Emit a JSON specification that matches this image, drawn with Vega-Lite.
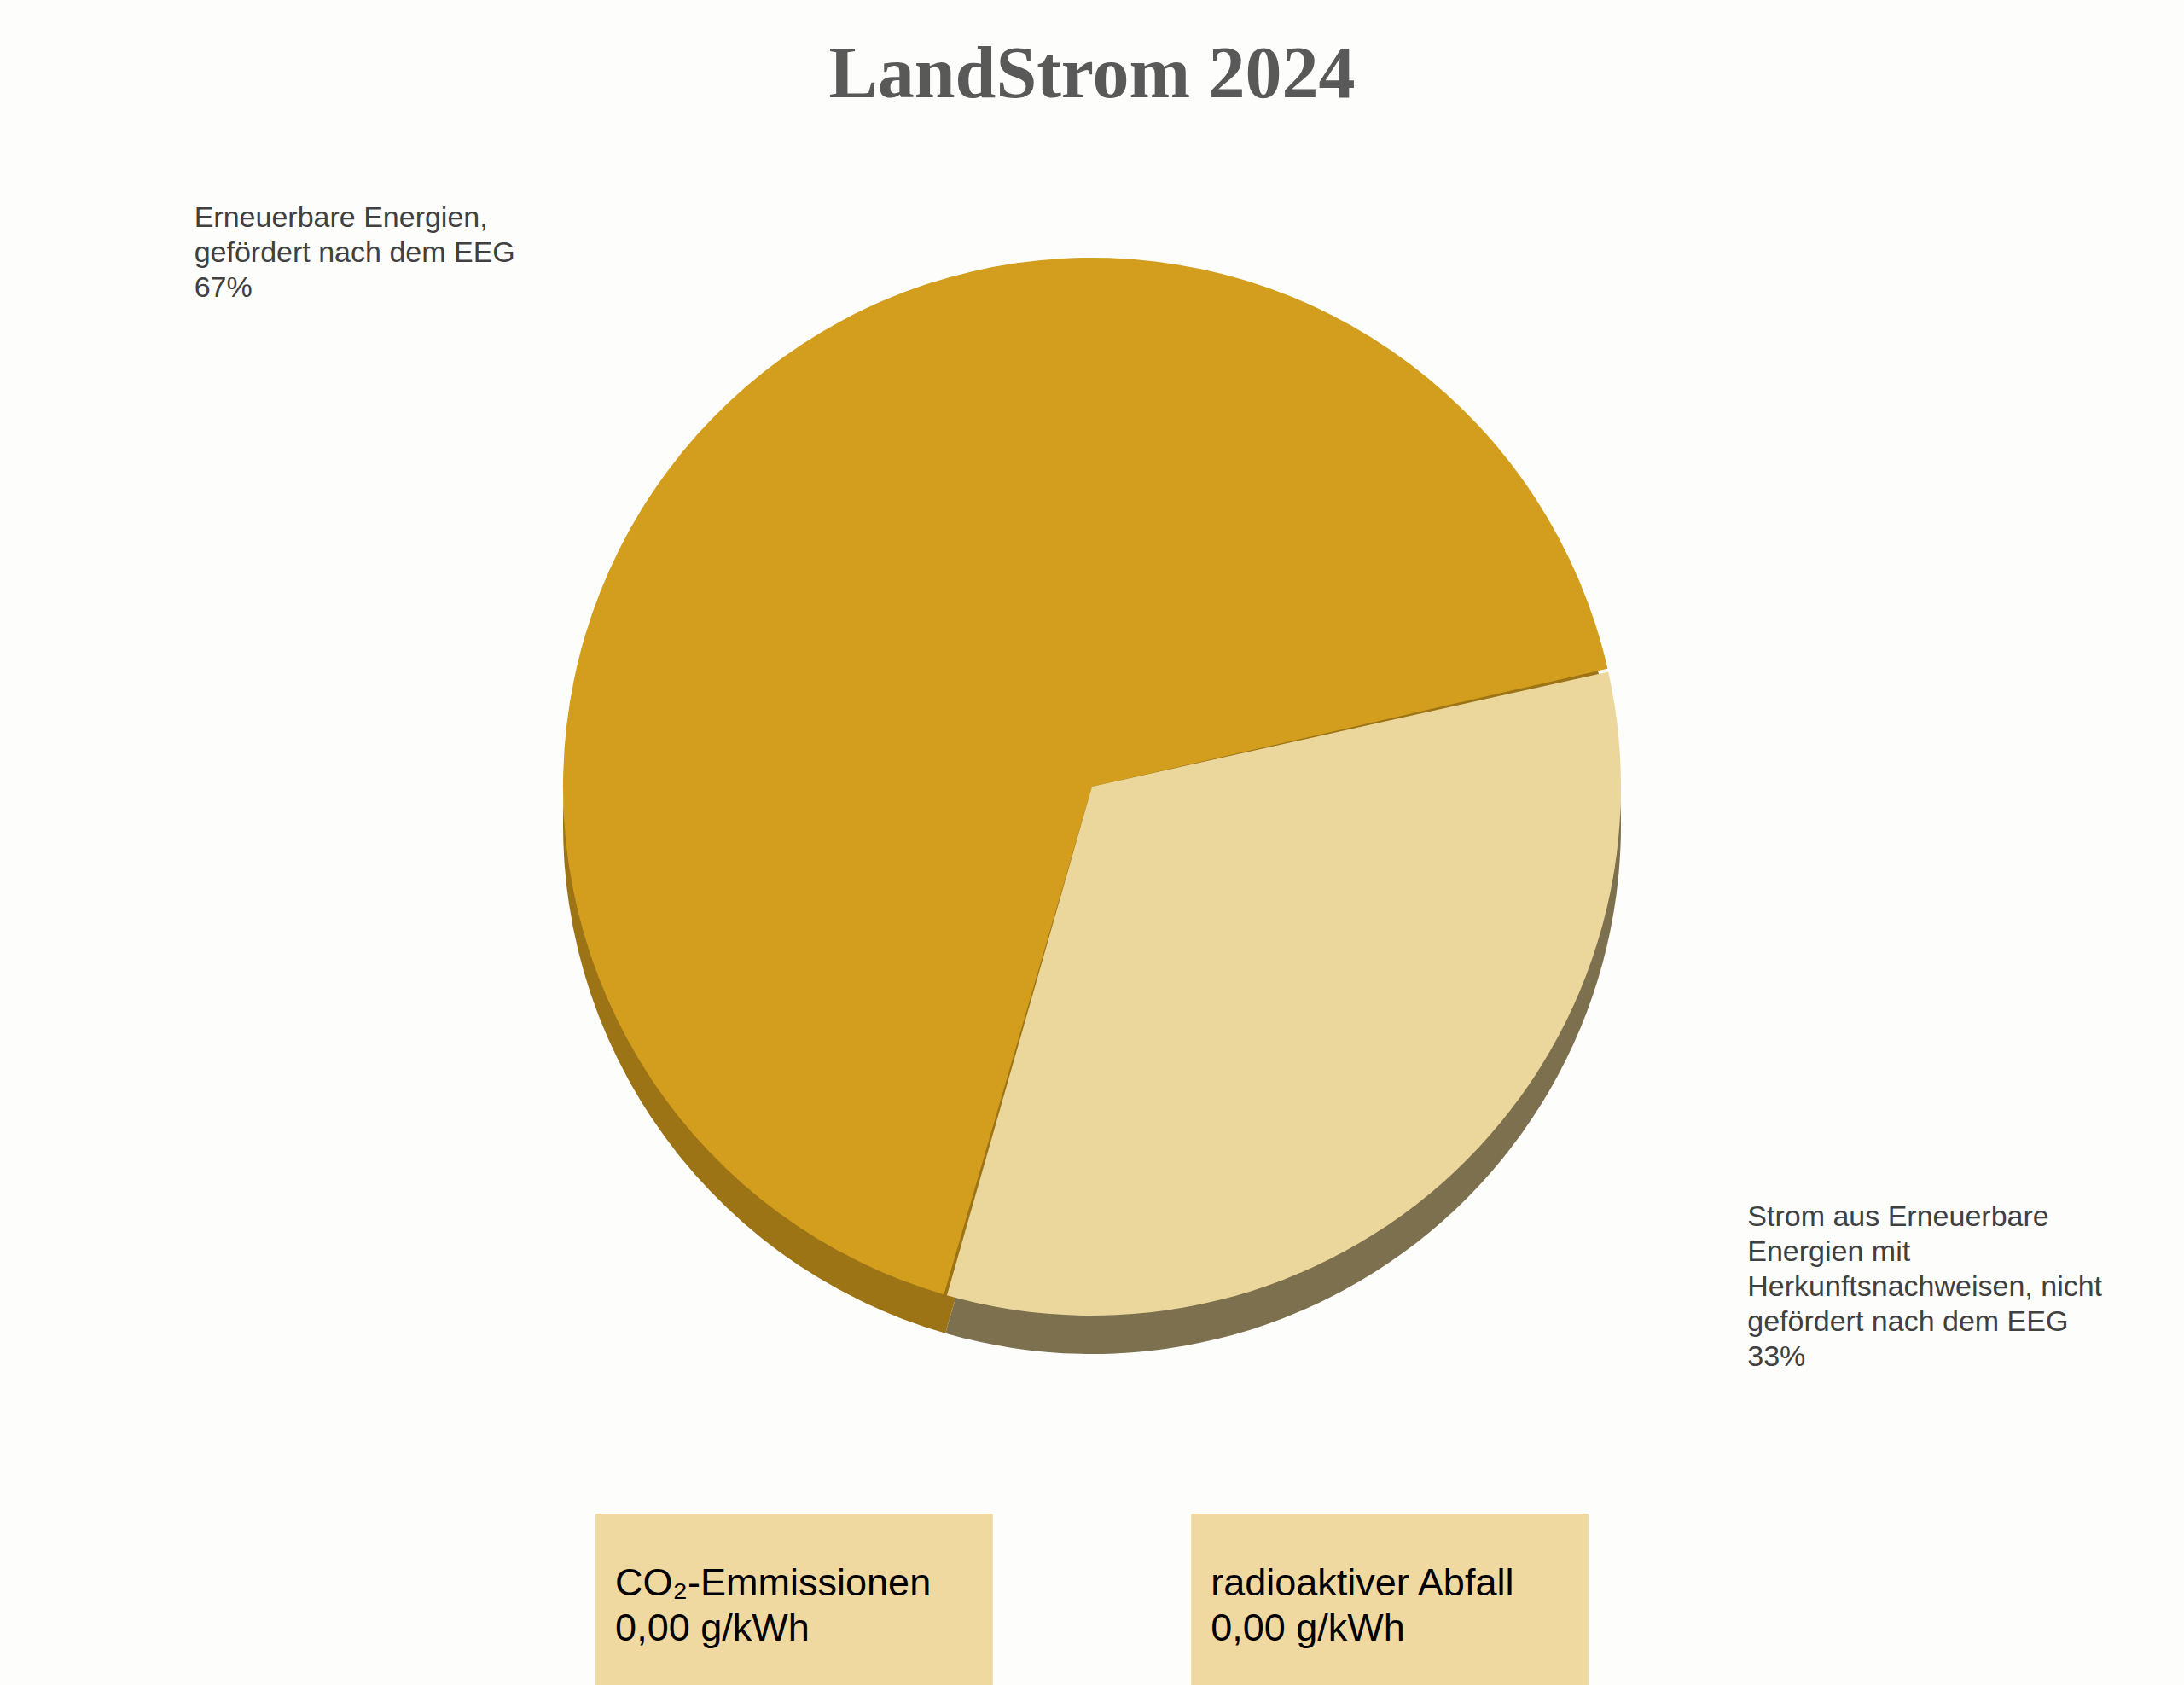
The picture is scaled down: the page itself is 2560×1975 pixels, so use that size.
{
  "$schema": "https://vega.github.io/schema/vega-lite/v6.json",
  "background": "#fdfdfc",
  "padding": {"top": 45, "left": 0, "right": 0, "bottom": 0},
  "title": {"text": "LandStrom 2024", "font": "Liberation Serif", "fontSize": 86, "fontWeight": "bold", "color": "#595959", "anchor": "middle", "offset": 50},
  "config": {"view": {"stroke": null}},
  "datasets": {
    "shares": [
      {"name": "Erneuerbare Energien, gefördert nach dem EEG", "pct": 67, "label": ["Erneuerbare Energien,", "gefördert nach dem EEG", "67%"]},
      {"name": "Strom aus Erneuerbare Energien mit Herkunftsnachweisen, nicht gefördert nach dem EEG", "pct": 33, "label": ["Strom aus Erneuerbare", "Energien mit", "Herkunftsnachweisen, nicht", "gefördert nach dem EEG", "33%"]}
    ],
    "boxes": [
      {"label": "CO₂-Emmissionen", "value": "0,00 g/kWh"},
      {"label": "radioaktiver Abfall", "value": "0,00 g/kWh"}
    ]
  },
  "spacing": 112,
  "vconcat": [
    {
      "width": 2560,
      "height": 1480,
      "data": {"name": "shares"},
      "resolve": {"scale": {"color": "independent"}},
      "layer": [
        {
          "mark": {"type": "arc", "radius": 620, "yOffset": 45},
          "encoding": {
            "theta": {"field": "pct", "type": "quantitative", "stack": true, "scale": {"range": [1.349, 7.632]}},
            "order": {"field": "pct", "sort": "ascending"},
            "color": {"field": "name", "type": "nominal", "legend": null,
              "scale": {"domain": ["Erneuerbare Energien, gefördert nach dem EEG", "Strom aus Erneuerbare Energien mit Herkunftsnachweisen, nicht gefördert nach dem EEG"], "range": ["#9c7416", "#7d704f"]}}
          }
        },
        {
          "mark": {"type": "arc", "radius": 620, "padAngle": 0.006},
          "encoding": {
            "theta": {"field": "pct", "type": "quantitative", "stack": true, "scale": {"range": [1.349, 7.632]}},
            "order": {"field": "pct", "sort": "ascending"},
            "color": {"field": "name", "type": "nominal", "legend": null,
              "scale": {"domain": ["Erneuerbare Energien, gefördert nach dem EEG", "Strom aus Erneuerbare Energien mit Herkunftsnachweisen, nicht gefördert nach dem EEG"], "range": ["#d39e1e", "#ebd69c"]}}
          }
        },
        {
          "mark": {"type": "text", "radius": 620, "align": "left", "baseline": "alphabetic", "dx": -627, "dy": -205, "font": "Liberation Sans", "fontSize": 34, "lineHeight": 41, "color": "#404040"},
          "encoding": {
            "theta": {"field": "pct", "type": "quantitative", "stack": true, "scale": {"range": [1.349, 7.632]}},
            "order": {"field": "pct", "sort": "ascending"},
            "text": {"condition": {"test": "datum.pct === 67", "field": "label", "type": "nominal"}, "value": ""}
          }
        },
        {
          "mark": {"type": "text", "radius": 620, "align": "left", "baseline": "alphabetic", "dx": 343, "dy": 64, "font": "Liberation Sans", "fontSize": 34, "lineHeight": 41, "color": "#404040"},
          "encoding": {
            "theta": {"field": "pct", "type": "quantitative", "stack": true, "scale": {"range": [1.349, 7.632]}},
            "order": {"field": "pct", "sort": "ascending"},
            "text": {"condition": {"test": "datum.pct === 33", "field": "label", "type": "nominal"}, "value": ""}
          }
        }
      ]
    },
    {
      "width": 2560,
      "height": 205,
      "data": {"name": "boxes"},
      "encoding": {
        "x": {"field": "label", "type": "nominal", "axis": null, "sort": null,
          "scale": {"paddingInner": 0.333, "paddingOuter": 1.0}}
      },
      "layer": [
        {"mark": {"type": "rect", "color": "#f0d9a0"}},
        {
          "mark": {"type": "text", "align": "left", "baseline": "alphabetic", "dx": 23, "dy": -7, "font": "Liberation Sans", "fontSize": 45, "color": "#000000"},
          "encoding": {"x": {"field": "label", "type": "nominal", "bandPosition": 0}, "text": {"field": "label"}}
        },
        {
          "mark": {"type": "text", "align": "left", "baseline": "alphabetic", "dx": 23, "dy": 46, "font": "Liberation Sans", "fontSize": 45, "color": "#000000"},
          "encoding": {"x": {"field": "label", "type": "nominal", "bandPosition": 0}, "text": {"field": "value"}}
        }
      ]
    }
  ]
}
